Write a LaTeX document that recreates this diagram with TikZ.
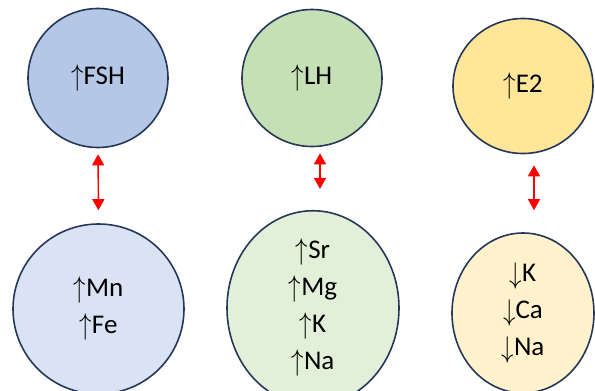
\documentclass[tikz,border=0pt]{standalone}
\usepackage{fontspec}
\setmainfont{Carlito}
\usetikzlibrary{shapes.geometric,arrows.meta}
\definecolor{edge}{HTML}{263859}
\definecolor{fa}{HTML}{B4C7E7}
\definecolor{fb}{HTML}{DAE3F3}
\definecolor{ga}{HTML}{C5E0B4}
\definecolor{gb}{HTML}{E2F0D9}
\definecolor{ya}{HTML}{FFE699}
\definecolor{yb}{HTML}{FFF2CC}
\definecolor{redarr}{HTML}{FF0000}
\tikzset{
  blob/.style={ellipse, draw=edge, line width=1.6pt, inner sep=0pt, align=center,
    font=\fontsize{27}{37}\selectfont},
  dbl/.style={redarr, line width=1.4pt, {Triangle[width=12pt,length=11pt]}-{Triangle[width=12pt,length=11pt]}}
}
\newcommand{\up}{\raisebox{-1pt}{\scalebox{1}[1.2]{$\uparrow$}}}
\newcommand{\dn}{\raisebox{-2pt}{\scalebox{1}[1.2]{$\downarrow$}}}
\begin{document}
\begin{tikzpicture}[x=1pt,y=-1pt]
\useasboundingbox (0,0) rectangle (595,391);
\node[blob, fill=fa, minimum width=140pt, minimum height=139pt] (t1) at (98,78) {\up FSH};
\node[blob, fill=ga, minimum width=140pt, minimum height=137pt] (t2) at (312,78) {\up LH};
\node[blob, fill=ya, minimum width=140pt, minimum height=135pt] (t3) at (523,86) {\up E2};
\node[blob, fill=fb, minimum width=171pt, minimum height=170pt] (b1) at (98.5,309) {\up Mn\\\up Fe};
\node[blob, fill=gb, minimum width=172pt, minimum height=170pt] (b2) at (313,308) {\up Sr\\\up Mg\\\up K\\\up Na};
\node[blob, fill=yb, minimum width=142pt, minimum height=160pt] (b3) at (523,313) {\dn K\\\dn Ca\\\dn Na};
\draw[dbl, shorten <=6pt, shorten >=13pt] (t1.south) -- (b1.north);
\draw[dbl, shorten <=6pt, shorten >=21pt] ([xshift=8pt]t2.south) -- ([xshift=7pt]b2.north);
\draw[dbl, shorten <=11pt, shorten >=22pt] ([xshift=11pt]t3.south) -- ([xshift=11pt]b3.north);
\end{tikzpicture}
\end{document}
